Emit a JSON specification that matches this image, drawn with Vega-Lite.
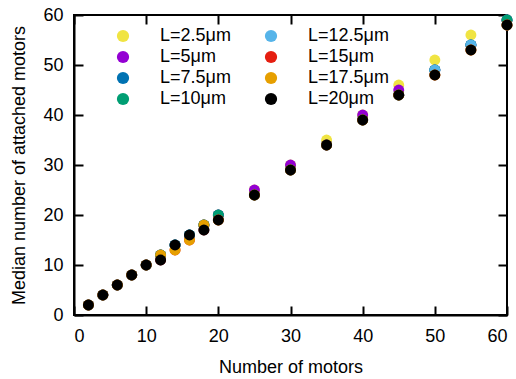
{
  "$schema": "https://vega.github.io/schema/vega-lite/v6.json",
  "autosize": {"type": "none"},
  "width": 433,
  "height": 300,
  "padding": {"left": 74, "top": 15, "right": 9, "bottom": 64},
  "background": "white",
  "config": {
    "view": {"stroke": "black", "strokeWidth": 2},
    "font": "Liberation Sans",
    "axis": {
      "grid": false,
      "domainColor": "black",
      "domainWidth": 2,
      "tickColor": "black",
      "tickWidth": 2,
      "tickSize": -9,
      "labelFont": "Liberation Sans",
      "labelFontSize": 18,
      "labelColor": "black",
      "titleFont": "Liberation Sans",
      "titleFontSize": 18,
      "titleFontWeight": "normal",
      "titleColor": "black"
    },
    "legend": {
      "labelFont": "Liberation Sans",
      "labelFontSize": 18,
      "labelColor": "black"
    }
  },
  "data": {
    "values": [
      {"n": 2, "m": 2, "L": "L=2.5μm"}, {"n": 4, "m": 4, "L": "L=2.5μm"}, {"n": 6, "m": 6, "L": "L=2.5μm"}, {"n": 8, "m": 8, "L": "L=2.5μm"}, {"n": 10, "m": 10, "L": "L=2.5μm"}, {"n": 12, "m": 12, "L": "L=2.5μm"}, {"n": 14, "m": 14, "L": "L=2.5μm"}, {"n": 16, "m": 16, "L": "L=2.5μm"}, {"n": 18, "m": 18, "L": "L=2.5μm"}, {"n": 20, "m": 20, "L": "L=2.5μm"}, {"n": 25, "m": 25, "L": "L=2.5μm"}, {"n": 30, "m": 30, "L": "L=2.5μm"}, {"n": 35, "m": 35, "L": "L=2.5μm"}, {"n": 40, "m": 40, "L": "L=2.5μm"}, {"n": 45, "m": 46, "L": "L=2.5μm"}, {"n": 50, "m": 51, "L": "L=2.5μm"}, {"n": 55, "m": 56, "L": "L=2.5μm"}, {"n": 60, "m": 59, "L": "L=2.5μm"},
      {"n": 2, "m": 2, "L": "L=5μm"}, {"n": 4, "m": 4, "L": "L=5μm"}, {"n": 6, "m": 6, "L": "L=5μm"}, {"n": 8, "m": 8, "L": "L=5μm"}, {"n": 10, "m": 10, "L": "L=5μm"}, {"n": 12, "m": 12, "L": "L=5μm"}, {"n": 14, "m": 14, "L": "L=5μm"}, {"n": 16, "m": 16, "L": "L=5μm"}, {"n": 18, "m": 18, "L": "L=5μm"}, {"n": 20, "m": 20, "L": "L=5μm"}, {"n": 25, "m": 25, "L": "L=5μm"}, {"n": 30, "m": 30, "L": "L=5μm"}, {"n": 35, "m": 34, "L": "L=5μm"}, {"n": 40, "m": 40, "L": "L=5μm"}, {"n": 45, "m": 45, "L": "L=5μm"}, {"n": 50, "m": 49, "L": "L=5μm"}, {"n": 55, "m": 54, "L": "L=5μm"}, {"n": 60, "m": 59, "L": "L=5μm"},
      {"n": 2, "m": 2, "L": "L=7.5μm"}, {"n": 4, "m": 4, "L": "L=7.5μm"}, {"n": 6, "m": 6, "L": "L=7.5μm"}, {"n": 8, "m": 8, "L": "L=7.5μm"}, {"n": 10, "m": 10, "L": "L=7.5μm"}, {"n": 12, "m": 12, "L": "L=7.5μm"}, {"n": 14, "m": 14, "L": "L=7.5μm"}, {"n": 16, "m": 16, "L": "L=7.5μm"}, {"n": 18, "m": 18, "L": "L=7.5μm"}, {"n": 20, "m": 20, "L": "L=7.5μm"}, {"n": 25, "m": 24, "L": "L=7.5μm"}, {"n": 30, "m": 29, "L": "L=7.5μm"}, {"n": 35, "m": 34, "L": "L=7.5μm"}, {"n": 40, "m": 39, "L": "L=7.5μm"}, {"n": 45, "m": 44, "L": "L=7.5μm"}, {"n": 50, "m": 49, "L": "L=7.5μm"}, {"n": 55, "m": 54, "L": "L=7.5μm"}, {"n": 60, "m": 59, "L": "L=7.5μm"},
      {"n": 2, "m": 2, "L": "L=10μm"}, {"n": 4, "m": 4, "L": "L=10μm"}, {"n": 6, "m": 6, "L": "L=10μm"}, {"n": 8, "m": 8, "L": "L=10μm"}, {"n": 10, "m": 10, "L": "L=10μm"}, {"n": 12, "m": 12, "L": "L=10μm"}, {"n": 14, "m": 14, "L": "L=10μm"}, {"n": 16, "m": 16, "L": "L=10μm"}, {"n": 18, "m": 18, "L": "L=10μm"}, {"n": 20, "m": 20, "L": "L=10μm"}, {"n": 25, "m": 24, "L": "L=10μm"}, {"n": 30, "m": 29, "L": "L=10μm"}, {"n": 35, "m": 34, "L": "L=10μm"}, {"n": 40, "m": 39, "L": "L=10μm"}, {"n": 45, "m": 44, "L": "L=10μm"}, {"n": 50, "m": 49, "L": "L=10μm"}, {"n": 55, "m": 54, "L": "L=10μm"}, {"n": 60, "m": 59, "L": "L=10μm"},
      {"n": 2, "m": 2, "L": "L=12.5μm"}, {"n": 4, "m": 4, "L": "L=12.5μm"}, {"n": 6, "m": 6, "L": "L=12.5μm"}, {"n": 8, "m": 8, "L": "L=12.5μm"}, {"n": 10, "m": 10, "L": "L=12.5μm"}, {"n": 12, "m": 11, "L": "L=12.5μm"}, {"n": 14, "m": 14, "L": "L=12.5μm"}, {"n": 16, "m": 16, "L": "L=12.5μm"}, {"n": 18, "m": 17, "L": "L=12.5μm"}, {"n": 20, "m": 19, "L": "L=12.5μm"}, {"n": 25, "m": 24, "L": "L=12.5μm"}, {"n": 30, "m": 29, "L": "L=12.5μm"}, {"n": 35, "m": 34, "L": "L=12.5μm"}, {"n": 40, "m": 39, "L": "L=12.5μm"}, {"n": 45, "m": 44, "L": "L=12.5μm"}, {"n": 50, "m": 49, "L": "L=12.5μm"}, {"n": 55, "m": 54, "L": "L=12.5μm"}, {"n": 60, "m": 58, "L": "L=12.5μm"},
      {"n": 2, "m": 2, "L": "L=15μm"}, {"n": 4, "m": 4, "L": "L=15μm"}, {"n": 6, "m": 6, "L": "L=15μm"}, {"n": 8, "m": 8, "L": "L=15μm"}, {"n": 10, "m": 10, "L": "L=15μm"}, {"n": 12, "m": 11, "L": "L=15μm"}, {"n": 14, "m": 13, "L": "L=15μm"}, {"n": 16, "m": 15, "L": "L=15μm"}, {"n": 18, "m": 17, "L": "L=15μm"}, {"n": 20, "m": 19, "L": "L=15μm"}, {"n": 25, "m": 24, "L": "L=15μm"}, {"n": 30, "m": 29, "L": "L=15μm"}, {"n": 35, "m": 34, "L": "L=15μm"}, {"n": 40, "m": 39, "L": "L=15μm"}, {"n": 45, "m": 44, "L": "L=15μm"}, {"n": 50, "m": 48, "L": "L=15μm"}, {"n": 55, "m": 53, "L": "L=15μm"}, {"n": 60, "m": 58, "L": "L=15μm"},
      {"n": 2, "m": 2, "L": "L=17.5μm"}, {"n": 4, "m": 4, "L": "L=17.5μm"}, {"n": 6, "m": 6, "L": "L=17.5μm"}, {"n": 8, "m": 8, "L": "L=17.5μm"}, {"n": 10, "m": 10, "L": "L=17.5μm"}, {"n": 12, "m": 12, "L": "L=17.5μm"}, {"n": 14, "m": 13, "L": "L=17.5μm"}, {"n": 16, "m": 15, "L": "L=17.5μm"}, {"n": 18, "m": 18, "L": "L=17.5μm"}, {"n": 20, "m": 19, "L": "L=17.5μm"}, {"n": 25, "m": 24, "L": "L=17.5μm"}, {"n": 30, "m": 29, "L": "L=17.5μm"}, {"n": 35, "m": 34, "L": "L=17.5μm"}, {"n": 40, "m": 39, "L": "L=17.5μm"}, {"n": 45, "m": 44, "L": "L=17.5μm"}, {"n": 50, "m": 48, "L": "L=17.5μm"}, {"n": 55, "m": 53, "L": "L=17.5μm"}, {"n": 60, "m": 58, "L": "L=17.5μm"},
      {"n": 2, "m": 2, "L": "L=20μm"}, {"n": 4, "m": 4, "L": "L=20μm"}, {"n": 6, "m": 6, "L": "L=20μm"}, {"n": 8, "m": 8, "L": "L=20μm"}, {"n": 10, "m": 10, "L": "L=20μm"}, {"n": 12, "m": 11, "L": "L=20μm"}, {"n": 14, "m": 14, "L": "L=20μm"}, {"n": 16, "m": 16, "L": "L=20μm"}, {"n": 18, "m": 17, "L": "L=20μm"}, {"n": 20, "m": 19, "L": "L=20μm"}, {"n": 25, "m": 24, "L": "L=20μm"}, {"n": 30, "m": 29, "L": "L=20μm"}, {"n": 35, "m": 34, "L": "L=20μm"}, {"n": 40, "m": 39, "L": "L=20μm"}, {"n": 45, "m": 44, "L": "L=20μm"}, {"n": 50, "m": 48, "L": "L=20μm"}, {"n": 55, "m": 53, "L": "L=20μm"}, {"n": 60, "m": 58, "L": "L=20μm"}
    ]
  },
  "layer": [
    {
      "mark": {"type": "point", "filled": true, "opacity": 1, "size": 120, "shape": "circle"},
      "encoding": {
        "x": {
          "field": "n", "type": "quantitative",
          "scale": {"domain": [0, 60], "nice": false, "zero": false},
          "axis": {"title": "Number of motors", "values": [0, 10, 20, 30, 40, 50, 60], "labelPadding": 21, "titlePadding": 13}
        },
        "y": {
          "field": "m", "type": "quantitative",
          "scale": {"domain": [0, 60], "nice": false, "zero": false},
          "axis": {"title": "Median number of attached motors", "values": [0, 10, 20, 30, 40, 50, 60], "labelPadding": 20, "titlePadding": 14}
        },
        "color": {
          "field": "L", "type": "nominal",
          "scale": {
            "domain": ["L=2.5μm", "L=5μm", "L=7.5μm", "L=10μm", "L=12.5μm", "L=15μm", "L=17.5μm", "L=20μm"],
            "range": ["#f0e442", "#9400d3", "#0072b2", "#009e73", "#56b4e9", "#e51e10", "#e69f00", "#000000"]
          },
          "legend": {
            "title": null,
            "orient": "none",
            "legendX": 40,
            "legendY": 12,
            "columns": 2,
            "columnPadding": 31,
            "rowPadding": 3,
            "symbolSize": 150,
            "symbolType": "circle",
            "symbolStrokeWidth": 0,
            "labelOffset": 28
          }
        }
      }
    },
    {
      "mark": {"type": "point", "opacity": 0},
      "encoding": {
        "x": {
          "field": "n", "type": "quantitative",
          "scale": {"domain": [0, 60], "nice": false, "zero": false},
          "axis": {"orient": "top", "title": null, "labels": false, "domain": false, "values": [0, 10, 20, 30, 40, 50, 60]}
        },
        "y": {
          "field": "m", "type": "quantitative",
          "scale": {"domain": [0, 60], "nice": false, "zero": false},
          "axis": {"orient": "right", "title": null, "labels": false, "domain": false, "values": [0, 10, 20, 30, 40, 50, 60]}
        }
      }
    }
  ],
  "resolve": {"axis": {"x": "independent", "y": "independent"}}
}
